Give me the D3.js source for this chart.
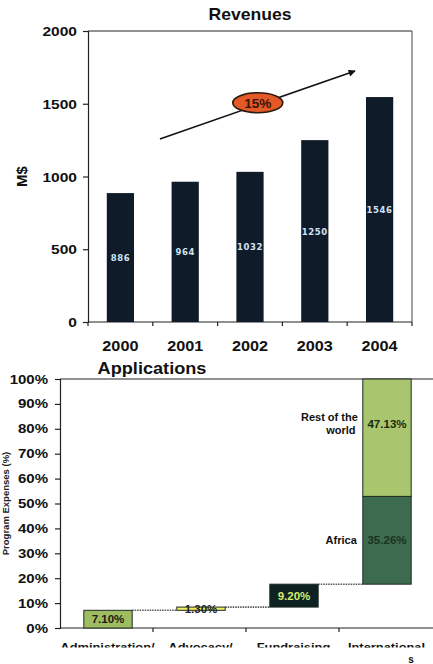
<!DOCTYPE html>
<html><head><meta charset="utf-8">
<script src="https://cdn.jsdelivr.net/npm/d3@7"></script>
<style>html,body{margin:0;padding:0;background:#fff;}svg{display:block;}</style>
</head><body>
<svg id="c" width="433" height="664"></svg>
<script>
// ---------- data ----------
const years = ["2000", "2001", "2002", "2003", "2004"];
const revenues = [886, 964, 1032, 1250, 1546];
const revTicks = [0, 500, 1000, 1500, 2000];
const growthLabel = "15%";

const appCategories = ["Administration/", "Advocacy/", "Fundraising", "International"];
const segCategory = [0, 1, 2, 3, 3];
const segValues = [7.10, 1.30, 9.20, 35.26, 47.13];
const segLabels = ["7.10%", "1.30%", "9.20%", "35.26%", "47.13%"];
const segNames = ["", "", "", "Africa", "Rest of the world"];
const pctTicks = [0, 10, 20, 30, 40, 50, 60, 70, 80, 90, 100];

// ---------- setup ----------
const svg = d3.select("#c");
const F = "'Liberation Sans', Arial, sans-serif";

function stext(g, x, y, str, size, anchor, sx, fill) {
  return g.append("text")
    .attr("transform", `translate(${x},${y}) scale(${sx},1)`)
    .attr("text-anchor", anchor)
    .attr("font-family", F).attr("font-weight", "bold")
    .attr("font-size", size).attr("fill", fill || "#111")
    .text(str);
}

// ---------- Revenues chart ----------
const L1 = 88, R1 = 412, T1 = 31, B1 = 322;
const x1 = d3.scaleBand().domain(years).range([L1, R1]).paddingInner(0.58).paddingOuter(0.29);
const y1 = d3.scaleLinear().domain([0, 2000]).range([B1, T1]);
const step1 = x1.step();
const xi = i => L1 + i * step1;   // fractional band index -> x

const g1 = svg.append("g");
// frame
g1.append("line").attr("x1", L1).attr("x2", R1).attr("y1", T1).attr("y2", T1).attr("stroke", "#222").attr("stroke-width", 1);
g1.append("line").attr("x1", R1).attr("x2", R1).attr("y1", T1).attr("y2", B1).attr("stroke", "#444").attr("stroke-width", 1);

// y axis
const ya = g1.append("g").attr("transform", `translate(${L1},0)`)
  .call(d3.axisLeft(y1).tickValues(revTicks).tickSize(5).tickFormat(""));
ya.selectAll("path,line").attr("stroke", "#222").attr("stroke-width", 1.2);
revTicks.forEach(v => stext(g1, 77, y1(v) + 5, String(v), 13.5, "end", 1.15));

// x axis
g1.append("line").attr("x1", L1).attr("x2", R1).attr("y1", B1).attr("y2", B1).attr("stroke", "#222").attr("stroke-width", 1.2);
d3.range(years.length + 1).forEach(i => {
  g1.append("line").attr("x1", xi(i)).attr("x2", xi(i)).attr("y1", B1).attr("y2", B1 + 4).attr("stroke", "#222").attr("stroke-width", 1.2);
});
years.forEach(yr => stext(g1, x1(yr) + x1.bandwidth() / 2, 351, yr, 14.5, "middle", 1.12));

// bars
g1.selectAll("rect.bar").data(revenues).join("rect")
  .attr("x", (d, i) => x1(years[i])).attr("width", x1.bandwidth())
  .attr("y", d => y1(d)).attr("height", d => y1(0) - y1(d))
  .attr("fill", "#0f1b28");
g1.selectAll("text.bl").data(revenues).join("text")
  .attr("x", (d, i) => x1(years[i]) + x1.bandwidth() / 2)
  .attr("y", d => (y1(d) + y1(0)) / 2 + 3.5)
  .attr("text-anchor", "middle").attr("font-family", "'DejaVu Sans', sans-serif")
  .attr("font-weight", "bold").attr("font-size", 8.5).attr("letter-spacing", 0.6)
  .attr("fill", "#cfe3f2").text(d => d);

// titles
stext(g1, 250, 20, "Revenues", 16, "middle", 1.1);
g1.append("text").attr("transform", `translate(27,${(T1 + B1) / 2}) rotate(-90)`)
  .attr("text-anchor", "middle").attr("font-family", F).attr("font-weight", "bold")
  .attr("font-size", 15).attr("fill", "#111").text("M$");

// growth arrow
svg.append("defs").append("marker").attr("id", "ah").attr("viewBox", "0 0 10 10")
  .attr("refX", 9).attr("refY", 5).attr("markerWidth", 9).attr("markerHeight", 7)
  .attr("markerUnits", "userSpaceOnUse").attr("orient", "auto")
  .append("path").attr("d", "M0,0 L10,5 L0,10 z").attr("fill", "#111");
g1.append("line").attr("x1", xi(1.11)).attr("y1", y1(1258)).attr("x2", xi(4.12)).attr("y2", y1(1725))
  .attr("stroke", "#111").attr("stroke-width", 1.6).attr("marker-end", "url(#ah)");
g1.append("ellipse").attr("cx", xi(2.62)).attr("cy", y1(1507)).attr("rx", 25).attr("ry", 10)
  .attr("fill", "#e35a26").attr("stroke", "#2a1a10").attr("stroke-width", 1.6);
stext(g1, xi(2.62), y1(1507) + 5, growthLabel, 13, "middle", 1.05, "#3a1408");

// ---------- Applications chart ----------
const L2 = 60, R2 = 432, T2 = 379, B2 = 628;
const x2 = d3.scaleBand().domain(appCategories).range([L2, R2]).paddingInner(0.48).paddingOuter(0.24);
const y2 = d3.scaleLinear().domain([0, 100]).range([B2, T2]);
const step2 = x2.step();
const g2 = svg.append("g");

// cumulative bases
const bases = [];
let acc = 0;
segValues.forEach((v, i) => { bases.push(acc); acc += v; });

// frame
g2.append("line").attr("x1", L2).attr("x2", 433).attr("y1", T2).attr("y2", T2).attr("stroke", "#222").attr("stroke-width", 1);
const ya2 = g2.append("g").attr("transform", `translate(${L2},0)`)
  .call(d3.axisLeft(y2).tickValues(pctTicks).tickSize(5).tickFormat(""));
ya2.selectAll("path,line").attr("stroke", "#222").attr("stroke-width", 1.2);
pctTicks.forEach(v => stext(g2, 48, y2(v) + 4.5, v + "%", 12, "end", 1.25));
g2.append("line").attr("x1", L2).attr("x2", 433).attr("y1", B2).attr("y2", B2).attr("stroke", "#222").attr("stroke-width", 1.2);
d3.range(1, appCategories.length).forEach(i => {
  g2.append("line").attr("x1", L2 + i * step2).attr("x2", L2 + i * step2).attr("y1", B2).attr("y2", B2 + 4).attr("stroke", "#222").attr("stroke-width", 1.2);
});

// title & y title
stext(g2, 152, 374, "Applications", 16.5, "middle", 1.1);
g2.append("text").attr("transform", `translate(9,${(T2 + B2) / 2}) rotate(-90)`)
  .attr("text-anchor", "middle").attr("font-family", F).attr("font-weight", "bold")
  .attr("font-size", 9.5).attr("fill", "#222").text("Program Expenses (%)");

// connectors
const segFill = ["#9fbd60", "#f2f05c", "#0e2224", "#3c6b50", "#a9c66f"];
const segText = ["#1a1a1a", "#222", "#d6ea6c", "#1a3322", "#1a2a10"];
const bx = i => x2(appCategories[segCategory[i]]) + 1.5;
[0, 1, 2].forEach(i => {
  const top = bases[i] + segValues[i];
  g2.append("line").attr("x1", bx(i) + x2.bandwidth()).attr("x2", bx(i + 1))
    .attr("y1", y2(top)).attr("y2", y2(top))
    .attr("stroke", "#555").attr("stroke-width", 1.6).attr("stroke-dasharray", "1.5,1");
});

// segments
segValues.forEach((v, i) => {
  g2.append("rect").attr("x", bx(i)).attr("width", x2.bandwidth())
    .attr("y", y2(bases[i] + v)).attr("height", y2(bases[i]) - y2(bases[i] + v))
    .attr("fill", segFill[i]).attr("stroke", "#1e2a22").attr("stroke-width", 1);
});
// segment value labels
const labY = [null, null, null, null, 82];
segValues.forEach((v, i) => {
  const yc = labY[i] != null ? y2(labY[i]) : (y2(bases[i]) + y2(bases[i] + v)) / 2;
  stext(g2, bx(i) + x2.bandwidth() / 2, yc + 4, segLabels[i], 11, "middle", 1.05, segText[i]);
});
// segment names
stext(g2, bx(3) - 6, (y2(bases[3]) + y2(bases[3] + segValues[3])) / 2 + 4, segNames[3], 10.5, "end", 1.05);
stext(g2, bx(4) - 5, y2(82) - 3, "Rest of the", 10.5, "end", 1.05);
stext(g2, bx(4) - 22, y2(82) + 10, "world", 10.5, "middle", 1.05);

// x labels (bottom clipped as in reference)
svg.append("clipPath").attr("id", "xc").append("rect").attr("x", 0).attr("y", 630).attr("width", 433).attr("height", 17.5);
const xl = g2.append("g").attr("clip-path", "url(#xc)");
appCategories.forEach(c => stext(xl, x2(c) + x2.bandwidth() / 2 + 1, 651, c, 11.5, "middle", 1.12));
stext(g2, 411, 663, "s", 10, "middle", 1.0);
</script>
</body></html>
